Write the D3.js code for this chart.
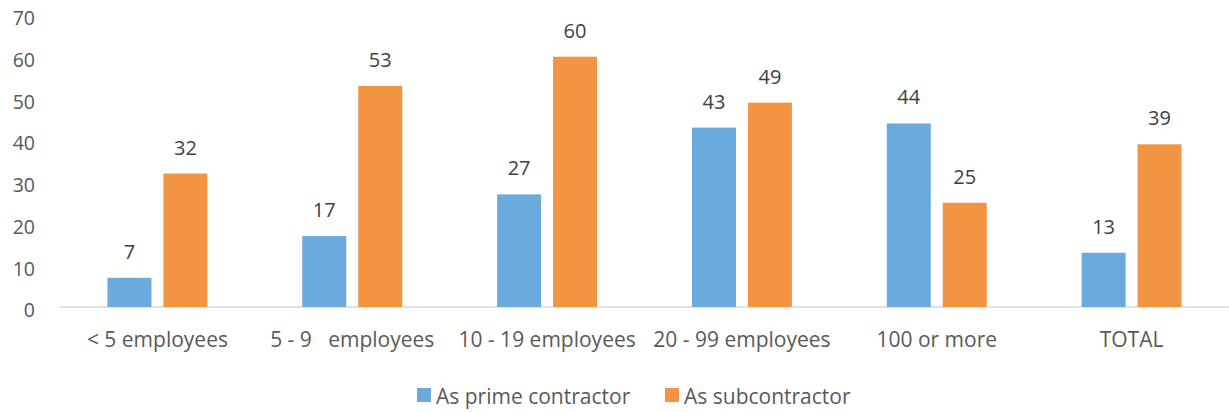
<!DOCTYPE html>
<html>
<head>
<meta charset="utf-8">
<script src="https://cdnjs.cloudflare.com/ajax/libs/d3/7.8.5/d3.min.js"></script>
<style>
  body { margin: 0; background: #fff; }
  text { font-family: "Open Sans", sans-serif; }
</style>
</head>
<body>
<div id="chart"></div>
<script>
// data
var categories = ["< 5 employees", "5 - 9   employees", "10 - 19 employees", "20 - 99 employees", "100 or more", "TOTAL"];
var seriesNames = ["As prime contractor", "As subcontractor"];
var primeValues = [7, 17, 27, 43, 44, 13];
var subValues = [32, 53, 60, 49, 25, 39];
var yTicks = [0, 10, 20, 30, 40, 50, 60, 70];
var colors = ["#6aaadc", "#f29441"];

var svgWidth = 1229;
var svgHeight = 412;

var margin = { top: 15, right: 0, bottom: 105, left: 60 };
var width = svgWidth - margin.left - margin.right;
var height = svgHeight - margin.top - margin.bottom;

var svg = d3.select("#chart")
  .append("svg")
  .attr("width", svgWidth)
  .attr("height", svgHeight);

var chartGroup = svg.append("g")
  .attr("transform", `translate(${margin.left}, ${margin.top})`);

var rows = categories.map(function(c, i) {
  return { cat: c, values: [primeValues[i], subValues[i]] };
});

var x0 = d3.scaleBand()
  .domain(categories)
  .range([0, width])
  .paddingInner(0.487)
  .paddingOuter(0.2435);

var x1 = d3.scaleBand()
  .domain([0, 1])
  .range([0, x0.bandwidth()])
  .paddingInner(0.214);

var yScale = d3.scaleLinear()
  .domain([0, 70])
  .range([height, 0]);

// y tick labels (no axis line, no gridlines)
var yAxis = d3.axisLeft(yScale).tickValues(yTicks).tickSize(0).tickPadding(25);
var yG = chartGroup.append("g").call(yAxis);
yG.select(".domain").remove();
yG.selectAll("text")
  .attr("dy", "0.5em")
  .attr("fill", "#595959")
  .style("font-size", "19.5px");

// baseline
chartGroup.append("line")
  .attr("x1", 0)
  .attr("x2", width)
  .attr("y1", yScale(0))
  .attr("y2", yScale(0))
  .attr("stroke", "#d9d9d9")
  .attr("stroke-width", 1.5);

// category labels
var xAxis = d3.axisBottom(x0).tickSize(0).tickPadding(25);
var xG = chartGroup.append("g")
  .attr("transform", `translate(0, ${height})`)
  .call(xAxis);
xG.select(".domain").remove();
xG.selectAll("text")
  .attr("fill", "#595959")
  .style("font-size", "21px")
  .style("white-space", "pre")
  .attr("xml:space", "preserve");

var groups = chartGroup.selectAll(".grp")
  .data(rows)
  .enter()
  .append("g")
  .attr("class", "grp")
  .attr("transform", d => `translate(${x0(d.cat)}, 0)`);

groups.selectAll("rect")
  .data(d => d.values.map((v, i) => ({ i: i, v: v })))
  .enter()
  .append("rect")
  .attr("x", d => x1(d.i))
  .attr("y", d => yScale(d.v))
  .attr("width", x1.bandwidth())
  .attr("height", d => yScale(0) - yScale(d.v))
  .attr("fill", d => colors[d.i]);

groups.selectAll(".val")
  .data(d => d.values.map((v, i) => ({ i: i, v: v })))
  .enter()
  .append("text")
  .attr("class", "val")
  .attr("x", d => x1(d.i) + x1.bandwidth() / 2)
  .attr("y", d => yScale(d.v) - 19)
  .attr("text-anchor", "middle")
  .attr("fill", "#404040")
  .style("font-size", "20px")
  .text(d => d.v);

// legend
var legendX = [417, 665];
var legend = svg.selectAll(".legend")
  .data(seriesNames)
  .enter()
  .append("g")
  .attr("class", "legend")
  .attr("transform", (d, i) => `translate(${legendX[i]}, 388)`);

legend.append("rect")
  .attr("width", 14)
  .attr("height", 14)
  .attr("fill", (d, i) => colors[i]);

legend.append("text")
  .attr("x", 19)
  .attr("y", 8)
  .attr("dy", "0.36em")
  .attr("fill", "#595959")
  .style("font-size", "21px")
  .text(d => d);
</script>
</body>
</html>
